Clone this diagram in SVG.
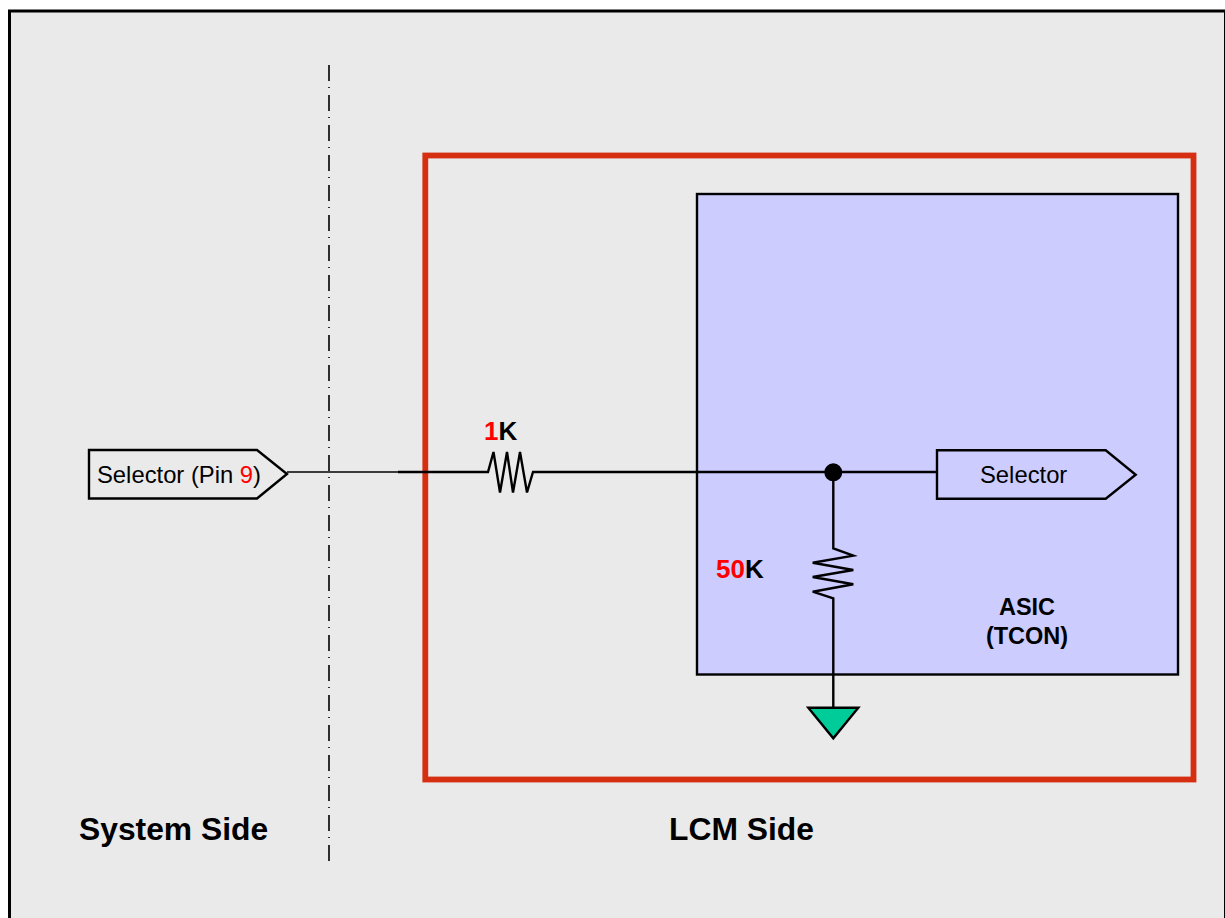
<svg xmlns="http://www.w3.org/2000/svg" width="1225" height="918" viewBox="0 0 1225 918">
<style>
text{font-family:"Liberation Sans",Arial,sans-serif;fill:#000}
.w{fill:none;stroke:#000;stroke-width:2.4;stroke-linejoin:miter}
.s{font-size:23.8px}
.b{font-weight:bold}
.r{fill:#f00}
</style>
<rect width="1225" height="918" fill="#fff"/>
<rect id="frame" x="9.5" y="11" width="1216" height="920" fill="#eaeaea" stroke="#000" stroke-width="3"/>
<g id="lcm-box"><rect x="425.3" y="155.5" width="768.2" height="624" fill="none" stroke="#d62e10" stroke-width="5.8"/></g>
<g id="asic"><rect x="697" y="194" width="481" height="480.5" fill="#ccccff" stroke="#000" stroke-width="2.4"/>
<text class="b" x="1027" y="615" font-size="23.5" text-anchor="middle">ASIC</text>
<text class="b" x="1027" y="644" font-size="23.5" text-anchor="middle">(TCON)</text></g>
<g id="connectors">
<line x1="329" y1="65" x2="329" y2="862" stroke="#000" stroke-width="1.6" stroke-dasharray="16 6 1 7"/>
<line x1="287" y1="472" x2="398" y2="472" stroke="#000" stroke-width="1.6"/>
<path class="w" d="M398 472H488L493.5 452L500 492.5L507 452L513 492.5L520 452L527 492.5L533 472H937"/>
<path class="w" d="M833.3 472V548.3L853.3 555.7L812.7 562.7L853.3 570L812.7 577L853.3 584.3L812.7 591.7L833.3 598.3V707.7"/>
<circle cx="833.3" cy="472.3" r="9" fill="#000"/>
</g>
<g id="pin-left"><path d="M89 450H257L287 474L257 498.5H89Z" fill="none" stroke="#000" stroke-width="2.4"/>
<text class="s" x="97" y="482.7">Selector (Pin <tspan class="r">9</tspan>)</text></g>
<g id="pin-right"><path d="M937 450.3H1105.7L1135.7 474.7L1105.7 498.7H937Z" fill="none" stroke="#000" stroke-width="2.4"/>
<text class="s" x="980" y="482.7">Selector</text></g>
<g id="r1"><text class="b" x="484" y="440" font-size="26"><tspan class="r">1</tspan>K</text></g>
<g id="r50"><text class="b" x="716" y="578" font-size="26"><tspan class="r">50</tspan>K</text></g>
<g id="ground"><path d="M808.3 707.7H858.3L833.3 738.3Z" fill="#00cc99" stroke="#000" stroke-width="2.4"/></g>
<text class="b" x="79" y="840" font-size="31.8">System Side</text>
<text class="b" x="669" y="840" font-size="31.8">LCM Side</text>
</svg>
